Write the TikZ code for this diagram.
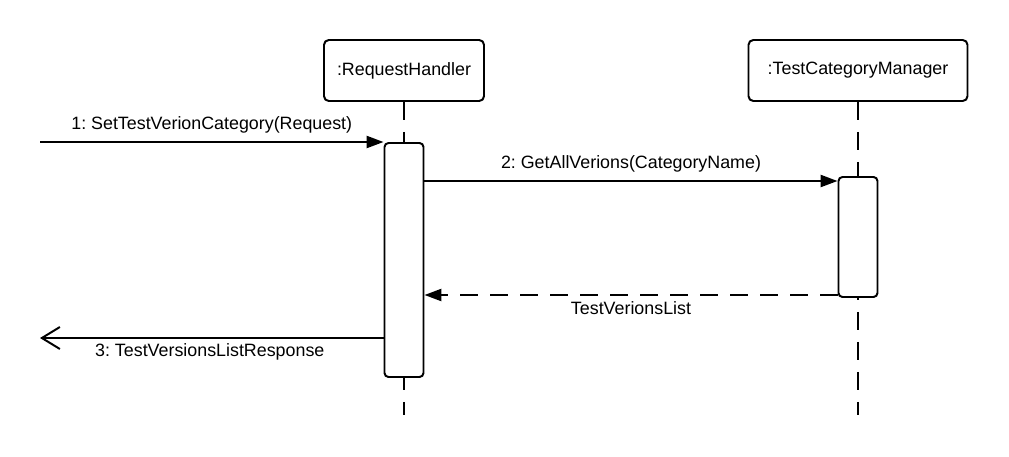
\documentclass[tikz,border=0pt]{standalone}
\usepackage{fontspec}
\setmainfont{Liberation Sans}
\usetikzlibrary{arrows.meta, positioning}
\frenchspacing

\begin{document}
\begin{tikzpicture}[
  every node/.style={font=\fontsize{12.7}{15}\selectfont},
  object/.style={draw, line width=1.4pt, rounded corners=0.12cm, minimum height=1.525cm, inner sep=0pt},
  activation/.style={draw, fill=white, line width=1.4pt, rounded corners=0.1cm, minimum width=0.975cm, inner sep=0pt},
  lifeline/.style={line width=1.4pt, dash pattern=on 0.45cm off 0.3cm},
  msg/.style={line width=1.4pt, -{Triangle[length=0.42cm, width=0.3cm]}},
  reply/.style={msg, dash pattern=on 0.45cm off 0.3cm},
  back/.style={line width=1.4pt, -{Straight Barb[length=0.45cm, width=0.55cm]}}
]
\useasboundingbox (0,0) rectangle (25.225,-11.4);
% objects and lifelines
\node[object, minimum width=4cm] (rh) at (10.1,-1.7625) {:RequestHandler};
\node[object, minimum width=5.475cm] (tcm) at (21.45,-1.7625) {:TestCategoryManager};
\coordinate (rhend) at (10.1,-10.375);
\coordinate (tcmend) at (21.45,-10.375);
\draw[lifeline] (rh) -- (rhend);
\draw[lifeline] (tcm) -- (tcmend);
% activations
\node[activation, minimum height=5.85cm] (act1) at (10.1,-6.5) {};
\node[activation, minimum height=3cm] (act2) at (21.45,-5.925) {};
% messages
\coordinate (in1) at (1.0,-3.55);
\coordinate (out3) at (1.0,-8.45);
\draw[msg] (in1) -- (in1 -| act1.west)
  node[midway, above=0.07cm] (m1) {1: SetTestVerionCategory(Request)};
\draw[msg] (act1.east |- 0,-4.525) -- (act2.west |- 0,-4.525)
  node[midway, above=0.09cm] (m2) {2: GetAllVerions(CategoryName)};
\draw[reply] (act2.west |- 0,-7.375) -- (act1.east |- 0,-7.375)
  node[midway, below=0.02cm] (m2r) {TestVerionsList};
\draw[back] (act1.west |- out3) -- (out3)
  node[midway, below=0.0cm, xshift=-0.05cm] (m3) {3: TestVersionsListResponse};
\end{tikzpicture}
\end{document}
